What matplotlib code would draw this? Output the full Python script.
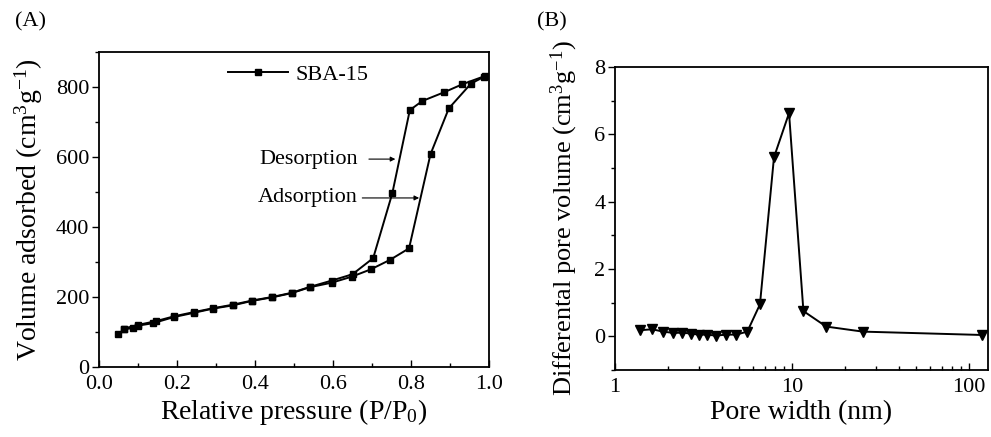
import matplotlib.pyplot as plt
from matplotlib.ticker import MultipleLocator, LogLocator, NullFormatter

plt.rcParams['font.family'] = ['Liberation Serif', 'DejaVu Serif']
plt.rcParams['mathtext.fontset'] = 'custom'
plt.rcParams['mathtext.rm'] = 'Liberation Serif'
plt.rcParams['mathtext.it'] = 'Liberation Serif:italic'
plt.rcParams['mathtext.default'] = 'regular'

# (A) N2 isotherm, SBA-15
ads_p = [0.048, 0.065, 0.086, 0.099, 0.138, 0.193, 0.244, 0.293, 0.343, 0.393,
         0.444, 0.494, 0.541, 0.597, 0.648, 0.697, 0.746, 0.795, 0.850, 0.897,
         0.954, 0.987]
ads_v = [93, 108, 111, 118, 125, 143, 155, 167, 176, 189,
         199, 211, 228, 241, 258, 279, 306, 339, 608, 739,
         810, 829]
des_p = [0.991, 0.932, 0.885, 0.829, 0.797, 0.752, 0.703, 0.650, 0.597, 0.541,
         0.494, 0.444, 0.393, 0.343, 0.293, 0.244, 0.193, 0.146, 0.099, 0.065]
des_v = [832, 808, 785, 760, 734, 496, 311, 265, 247, 229,
         212, 200, 190, 178, 168, 157, 145, 131, 120, 110]

# (B) pore size distribution
pore_w = [1.38, 1.62, 1.87, 2.14, 2.40, 2.69, 2.98, 3.32, 3.72, 4.22,
          4.83, 5.59, 6.59, 7.91, 9.62, 11.6, 15.6, 25.1, 119]
pore_dv = [0.18, 0.21, 0.14, 0.10, 0.11, 0.08, 0.05, 0.05, 0.02, 0.05,
           0.05, 0.14, 0.95, 5.32, 6.63, 0.75, 0.29, 0.14, 0.04]

TICK_FS = 16
LABEL_FS = 20
TEXT_FS = 16

fig = plt.figure(figsize=(9.91, 4.37), dpi=100)
W, H = 991, 437
axA = fig.add_axes([99 / W, 1 - 367 / H, 390 / W, 315 / H])
axB = fig.add_axes([615 / W, 1 - 370 / H, 373 / W, 303 / H])

for ax in (axA, axB):
    for s in ax.spines.values():
        s.set_linewidth(1.3)
    ax.tick_params(axis='x', which='both', direction='in', labelsize=TICK_FS,
                   width=1.0, pad=6)
    ax.tick_params(axis='y', which='both', direction='out', labelsize=TICK_FS,
                   width=1.0, pad=2)
    ax.tick_params(which='major', length=5)
    ax.tick_params(which='minor', length=3)

# --- (A)
axA.plot(ads_p, ads_v, color='black', lw=1.4, marker='s', ms=5, label='SBA-15')
axA.plot(des_p, des_v, color='black', lw=1.4, marker='s', ms=5)
axA.set_xlim(0, 1.0)
axA.set_ylim(0, 900)
axA.xaxis.set_major_locator(MultipleLocator(0.2))
axA.xaxis.set_minor_locator(MultipleLocator(0.1))
axA.yaxis.set_major_locator(MultipleLocator(200))
axA.yaxis.set_minor_locator(MultipleLocator(100))
axA.set_xticklabels([f'{v:.1f}' for v in axA.get_xticks()])
axA.set_xlabel('Relative pressure (P/P$_0$)', fontsize=LABEL_FS, labelpad=2)
axA.set_ylabel('Volume adsorbed (cm$^3$g$^{-1}$)', fontsize=LABEL_FS, labelpad=8)
axA.legend(loc='center left', bbox_to_anchor=(0.33, 0.927), frameon=False,
           fontsize=TEXT_FS, borderpad=0, borderaxespad=0, handlelength=2.7,
           handletextpad=0.35)

axA.annotate('', xy=(0.767, 594), xytext=(0.685, 594),
             arrowprops=dict(arrowstyle='-|>', color='black', lw=0.8,
                             mutation_scale=7))
axA.text(0.664, 594, 'Desorption', fontsize=TEXT_FS, ha='right', va='center')
axA.annotate('', xy=(0.828, 483), xytext=(0.668, 483),
             arrowprops=dict(arrowstyle='-|>', color='black', lw=0.8,
                             mutation_scale=7))
axA.text(0.664, 483, 'Adsorption', fontsize=TEXT_FS, ha='right', va='center')

# --- (B)
axB.plot(pore_w, pore_dv, color='black', lw=1.4, marker='v', ms=6.5)
axB.set_xscale('log')
axB.set_xlim(1, 128)
axB.set_ylim(-1, 8)
axB.xaxis.set_major_locator(LogLocator(base=10))
axB.xaxis.set_minor_locator(LogLocator(base=10, subs=range(2, 10)))
axB.xaxis.set_minor_formatter(NullFormatter())
axB.set_xticks([1, 10, 100])
axB.set_xticklabels(['1', '10', '100'])
axB.yaxis.set_major_locator(MultipleLocator(2))
axB.yaxis.set_minor_locator(MultipleLocator(1))
axB.set_xlabel('Pore width (nm)', fontsize=LABEL_FS, labelpad=2)
axB.set_ylabel('Differental pore volume (cm$^3$g$^{-1}$)', fontsize=19, labelpad=10)

fig.text(15 / W, 1 - 22 / H, '(A)', fontsize=TEXT_FS, va='center', ha='left')
fig.text(537 / W, 1 - 22 / H, '(B)', fontsize=TEXT_FS, va='center', ha='left')

fig.savefig('out.png', dpi=100)
